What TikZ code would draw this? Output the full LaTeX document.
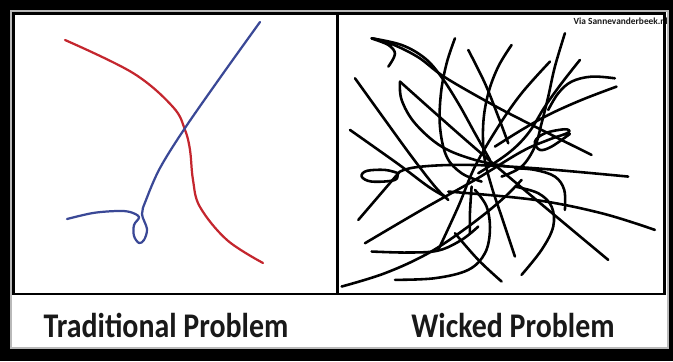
\documentclass[tikz,border=0pt]{standalone}
\usepackage{graphicx}
\usepackage{fontspec}
\setmainfont{Carlito}
\definecolor{trred}{RGB}{196,38,46}
\definecolor{trblue}{RGB}{58,72,150}
\definecolor{txt}{RGB}{25,25,25}
\begin{document}
\begin{tikzpicture}[x=0.03cm,y=-0.03cm,
  scrib/.style={line width=2.2pt,line cap=round,line join=round,black},
  tline/.style={line width=1.9pt,line cap=round,line join=round},
  label/.style={font=\bfseries\fontsize{25}{30}\selectfont,text=txt,inner sep=0pt}]
\useasboundingbox (0,0) rectangle (673,361);
% frames
\fill[black] (0,0) rectangle (673,361);
\fill[white] (11,11) rectangle (668,348);
\draw[gray!55,line width=1.2pt] (11,11) rectangle (668,348);
% watermark (under the frame)
\node[anchor=east,font=\bfseries\fontsize{8}{9}\selectfont,text=txt,inner sep=0pt] (via) at (668,21) {Via Sannevanderbeek.nl};
\draw[black,line width=2.5pt] (13.5,13.5) rectangle (664.5,294);
\draw[black,line width=2.5pt] (337.5,13.5) -- (337.5,294);
% left panel
\draw[trred,tline] plot[smooth,tension=0.6] coordinates {(65,40) (133,73) (173,107) (185,130) (190,150) (193,180) (200,207) (227,240) (263,263)};
\draw[trblue,tline] plot[smooth,tension=0.55] coordinates {(260,22) (222,75) (185,128) (160,168) (146,200) (142,214) (147,229) (144,240) (139,243) (134,236) (134,225) (139,217) (130,212) (117,211) (93,213) (67,219)};
% right panel scribbles
\begin{scope}[xshift=10.05cm,x=0.01cm,y=-0.01cm]
\draw[scrib] plot[smooth,tension=0.6] coordinates {(160,200) (180,162) (160,135) (110,115) (170,132) (250,172) (330,232) (480,318) (620,390) (770,465)};
\draw[scrib] plot[smooth,tension=0.6] coordinates {(110,115) (200,135) (270,175) (320,232) (370,310) (420,400) (465,480)};
\draw[scrib] plot[smooth,tension=0.6] coordinates {(360,115) (335,190) (318,280) (315,380) (335,470) (380,520) (440,545)};
\draw[scrib] plot[smooth,tension=0.6] coordinates {(400,150) (450,250) (490,350) (520,430)};
\draw[scrib] plot[smooth,tension=0.6] coordinates {(530,135) (490,200) (460,280) (445,370) (448,470) (470,560) (500,650) (540,770)};
\draw[scrib] plot[smooth,tension=0.6] coordinates {(60,235) (150,360) (230,470) (300,560) (340,600)};
\draw[scrib] plot[smooth,tension=0.6] coordinates {(45,390) (130,450) (200,500) (280,560) (330,590)};
\draw[scrib] plot[smooth,tension=0.6] coordinates {(195,245) (200,300) (240,370) (320,440) (420,480) (520,500)};
\draw[scrib] plot[smooth,tension=0.6] coordinates {(195,245) (450,470) (820,780)};
\draw[scrib] plot[smooth,tension=0.6] coordinates {(190,520) (150,510) (95,513) (80,530) (110,545) (180,540) (195,515) (260,500) (400,495) (600,505) (880,530)};
\draw[scrib] plot[smooth,tension=0.6] coordinates {(190,520) (130,590) (70,660)};
\draw[scrib] plot[smooth,tension=0.6] coordinates {(90,730) (260,630) (420,540) (560,455) (640,420) (700,398) (690,388) (630,400) (600,425) (615,450) (650,440) (705,402)};
\draw[scrib] plot[smooth,tension=0.6] coordinates {(645,185) (560,280) (490,380) (420,500) (370,620) (310,750)};
\draw[scrib] plot[smooth,tension=0.6] coordinates {(690,100) (660,200) (640,290) (620,370) (600,440) (560,500) (500,530)};
\draw[scrib] plot[smooth,tension=0.6] coordinates {(735,180) (680,250) (630,320) (580,400) (520,460) (430,520)};
\draw[scrib] plot[smooth,tension=0.6] coordinates {(840,235) (770,230) (710,245) (670,280) (640,330)};
\draw[scrib] plot[smooth,tension=0.6] coordinates {(845,260) (740,300) (640,345) (560,390) (480,440)};
\draw[scrib] plot[smooth,tension=0.6] coordinates {(340,575) (600,600) (800,640) (960,690)};
\draw[scrib] plot[smooth,tension=0.6] coordinates {(560,825) (620,750) (655,680) (650,620) (610,580) (540,560)};
\draw[scrib] plot[smooth,tension=0.6] coordinates {(690,630) (688,570) (660,530) (600,510) (540,505)};
\draw[scrib] plot[smooth,tension=0.6] coordinates {(110,755) (220,758) (310,752) (380,720) (430,680)};
\draw[scrib] plot[smooth,tension=0.6] coordinates {(180,840) (300,835) (400,810) (450,760) (465,690) (455,620) (420,570)};
\draw[scrib] plot[smooth,tension=0.6] coordinates {(20,860) (150,820) (280,760) (400,680) (500,600) (560,540)};
\draw[scrib] plot[smooth,tension=0.6] coordinates {(360,700) (430,780) (500,845)};
\draw[scrib] plot[smooth,tension=0.6] coordinates {(410,560) (405,640) (405,700)};
\end{scope}
% labels
\node[label] (trad) at (166,325) {\scalebox{1.02}[1.18]{Traditional Problem}};
\node[label] (wick) at (513,325) {\scalebox{1.02}[1.18]{Wicked Problem}};
\end{tikzpicture}
\end{document}
